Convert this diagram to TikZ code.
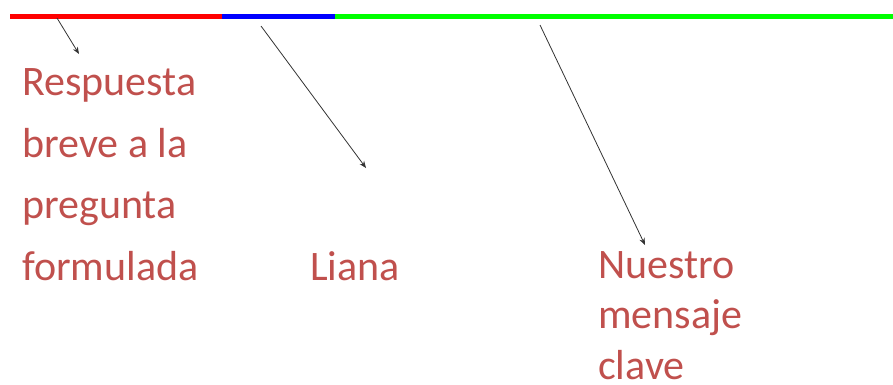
\documentclass[tikz,border=0pt]{standalone}
\usepackage{fontspec}
\setmainfont{Carlito}
\usetikzlibrary{arrows.meta}
\definecolor{labelred}{RGB}{192,80,77}
\definecolor{barred}{RGB}{255,0,0}
\definecolor{barblue}{RGB}{0,0,255}
\definecolor{bargreen}{RGB}{0,255,0}
\tikzset{
  barseg/.style={line width=5pt},
  pointer/.style={draw=black!80, line width=0.8pt, -{Stealth[length=7pt,width=5.5pt]}},
  label/.style={text=labelred, inner sep=0pt, anchor=base west, align=left}
}
\begin{document}
\begin{tikzpicture}[x=1pt, y=-1pt]
  \useasboundingbox (0,0) rectangle (893,384);
  % the coloured timeline bar
  \coordinate (r0) at (10,16);
  \coordinate (r1) at (222,16);
  \coordinate (b1) at (335,16);
  \coordinate (g1) at (893,16);
  \draw[barseg, barred] (r0) -- (r1);
  \draw[barseg, barblue] (r1) -- (b1);
  \draw[barseg, bargreen] (b1) -- (g1);
  % labels (base anchor sits on the last line)
  \node[label, font={\fontsize{42}{61.5}\selectfont}] (resp) at (22,280)
    {Respuesta\\breve a la\\pregunta\\formulada};
  \node[label, font={\fontsize{42}{61.5}\selectfont}] (liana) at (310,280) {Liana};
  \node[label, font={\fontsize{42}{50.5}\selectfont}] (nuestro) at (598,379)
    {Nuestro\\mensaje\\clave};
  % pointers from the bar
  \coordinate (s1) at (57,18);  \coordinate (e1) at (79,54);
  \coordinate (s2) at (261,26); \coordinate (e2) at (366,168);
  \coordinate (s3) at (540,25); \coordinate (e3) at (645,245);
  \draw[pointer] (s1) -- (e1);
  \draw[pointer] (s2) -- (e2);
  \draw[pointer] (s3) -- (e3);
\end{tikzpicture}
\end{document}
